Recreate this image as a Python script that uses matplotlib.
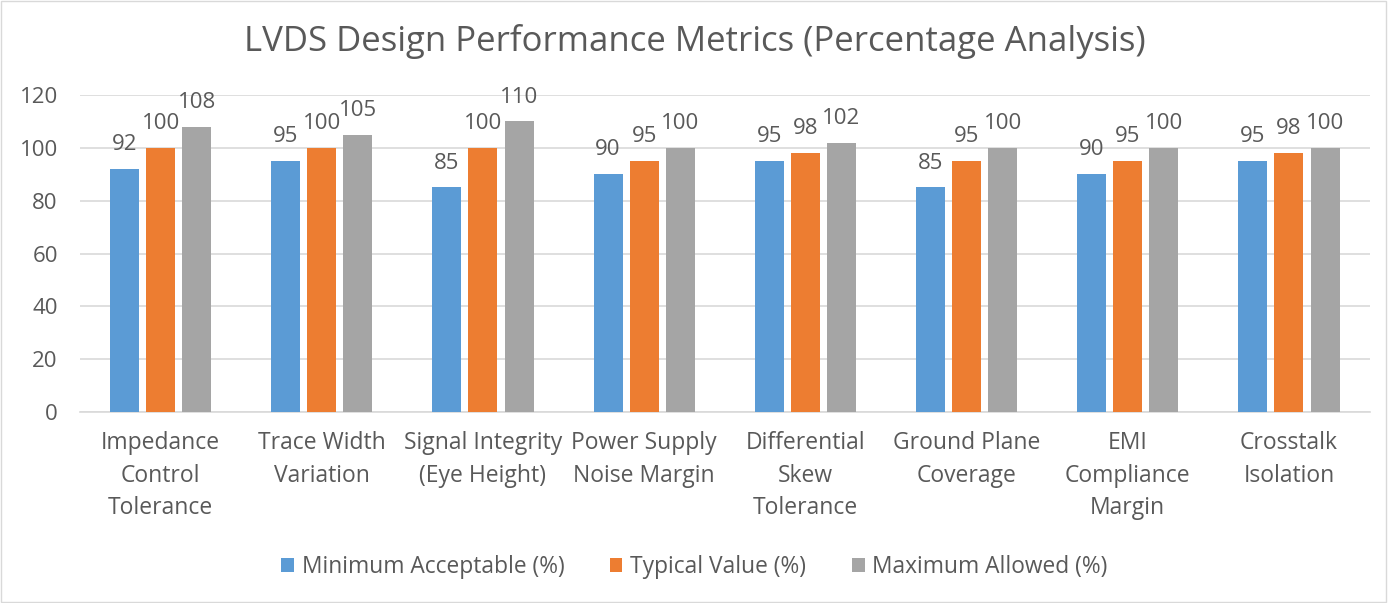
import numpy as np
import matplotlib.pyplot as plt
from matplotlib.patches import Rectangle

categories = ["Impedance\nControl\nTolerance", "Trace Width\nVariation",
              "Signal Integrity\n(Eye Height)", "Power Supply\nNoise Margin",
              "Differential\nSkew\nTolerance", "Ground Plane\nCoverage",
              "EMI\nCompliance\nMargin", "Crosstalk\nIsolation"]
series_names = ["Minimum Acceptable (%)", "Typical Value (%)", "Maximum Allowed (%)"]
minimum = [92, 95, 85, 90, 95, 85, 90, 95]
typical = [100, 100, 100, 95, 98, 95, 95, 98]
maximum = [108, 105, 110, 100, 102, 100, 100, 100]
colors = ["#5B9BD5", "#ED7D31", "#A5A5A5"]

plt.rcParams['font.family'] = ['Open Sans', 'DejaVu Sans']
txt = "#595959"

fig = plt.figure(figsize=(13.89, 6.03), dpi=100)
ax = fig.add_axes([0.0576, 0.3167, 0.9284, 0.5258])

x = np.arange(len(categories))
w = 0.18
step = 0.224
for i, (vals, name, c) in enumerate(zip([minimum, typical, maximum], series_names, colors)):
    pos = x + (i - 1) * step
    ax.bar(pos, vals, width=w, color=c, label=name, zorder=3)
    for p, v in zip(pos, vals):
        ax.annotate(str(v), (p, v), xytext=(0, 10), textcoords="offset points",
                    ha="center", va="bottom", fontsize=16, color=txt)

ax.set_xlim(-0.5, len(categories) - 0.5)
ax.set_ylim(0, 120)
ax.set_yticks(range(0, 121, 20))
ax.yaxis.grid(True, color="#D9D9D9", linewidth=1.2, zorder=0)
ax.set_xticks(x)
ax.set_xticklabels(categories, fontsize=16.5, color=txt, linespacing=1.45)
ax.tick_params(axis="y", labelsize=16, colors=txt, length=0, pad=16)
ax.tick_params(axis="x", length=0, pad=14)
for s in ["top", "right", "left"]:
    ax.spines[s].set_visible(False)
ax.spines["bottom"].set_color("#D9D9D9")
ax.spines["bottom"].set_linewidth(1.2)

fig.suptitle("LVDS Design Performance Metrics (Percentage Analysis)", y=0.96,
             fontsize=25, color=txt)

fig.legend(loc="center", bbox_to_anchor=(0.5, 0.06), ncol=3, frameon=False,
           fontsize=16.4, labelcolor=txt, handlelength=0.55, handleheight=0.55,
           handletextpad=0.35, columnspacing=2.0)

fig.patches.append(Rectangle((0.001, 0.002), 0.997, 0.996, transform=fig.transFigure,
                             fill=False, edgecolor="#D9D9D9", linewidth=1))

fig.savefig("out.png", dpi=100)
